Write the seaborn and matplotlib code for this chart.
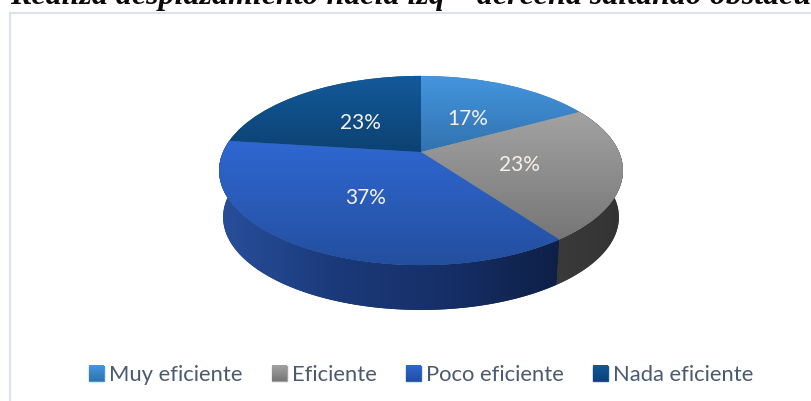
import numpy as np
import seaborn as sns
import matplotlib.pyplot as plt
from matplotlib.patches import Patch, PathPatch
from matplotlib.path import Path
from matplotlib.transforms import Transform

categories = ["Muy eficiente", "Eficiente", "Poco eficiente", "Nada eficiente"]
values = [17, 23, 37, 23]
title = "Realiza desplazamiento hacia izq – derecha saltando obstáculos"

# gradient ends, top to bottom of each slice
top_colors = [("#4596e0", "#3172ae"), ("#a3a3a3", "#767676"),
              ("#2f67d2", "#234f9e"), ("#135a9a", "#0c4273")]
side_colors = {1: ["#3a3a3a", "#333333"],
               2: ["#284f9c", "#1b3a7a", "#162f68", "#0e2046"]}

sns.set_theme(style="white")
plt.rcParams["font.family"] = ["Lato", "DejaVu Sans"]


class Tilted(Transform):
    """Unit pie circle to pixel coordinates, seen in perspective."""
    input_dims = 2
    output_dims = 2

    def __init__(self, scale=1.0, drop=0.0):
        super().__init__()
        self.scale = scale
        self.drop = drop

    def transform_non_affine(self, xy):
        xy = np.asarray(xy, dtype=float)
        den = 1 + 0.196 * xy[:, 1]
        px = 421 + self.scale * 198 * xy[:, 0] / den
        py = 152 - self.scale * 91 * xy[:, 1] / den + self.drop
        return np.column_stack([px, py])


fig = plt.figure(figsize=(8.11, 4.01), dpi=100)
ax = fig.add_axes([0, 0, 1, 1])

top = Tilted()
bottom = Tilted(scale=0.98, drop=47)

wedges, _, pcts = ax.pie(values, startangle=90, counterclock=False, radius=1,
                         autopct="%.0f%%", pctdistance=0.5,
                         textprops=dict(color="#f6f1ea", fontsize=15))
ax.set_aspect("auto")
ax.set_xlim(0, 811)
ax.set_ylim(401, 0)
ax.set_axis_off()

ramp = np.linspace(0, 1, 256)

# side wall first, the top of the pie covers whatever is behind it
for i, wedge in enumerate(wedges):
    if i not in side_colors:
        wedge.set_zorder(3)
        continue
    angles = np.radians(np.linspace(wedge.theta1, wedge.theta2, 200))
    ring = np.column_stack([np.cos(angles), np.sin(angles)])
    outline = np.vstack([top.transform(ring), bottom.transform(ring)[::-1]])
    wall = PathPatch(Path(outline, closed=False), transform=ax.transData,
                     facecolor=side_colors[i][-1], edgecolor="none", zorder=1)
    ax.add_patch(wall)
    # only the visible front part sets the horizontal gradient
    front = outline[outline[:, 1] > 175]
    cmap = sns.blend_palette(side_colors[i], 128, as_cmap=True)
    img = ax.imshow(ramp[None, :], cmap=cmap, aspect="auto", zorder=1.5,
                    extent=(front[:, 0].min(), front[:, 0].max(),
                            outline[:, 1].max(), outline[:, 1].min()))
    img.set_clip_path(wall)

for wedge, colors in zip(wedges, top_colors):
    wedge.set_transform(top + ax.transData)
    wedge.set_facecolor(colors[1])
    wedge.set_edgecolor("none")
    wedge.set_clip_on(False)
    wedge.set_zorder(3)
    box = top.transform_path(wedge.get_path()).get_extents()
    cmap = sns.blend_palette(colors, 128, as_cmap=True)
    img = ax.imshow(ramp[:, None], cmap=cmap, aspect="auto", zorder=3.5,
                    extent=(box.x0, box.x1, box.y1, box.y0))
    img.set_clip_path(wedge)

label_pos = Tilted(drop=3)
for pct in pcts:
    pct.set_transform(label_pos + ax.transData)
    pct.set_zorder(4)

handles = [Patch(color=c[0], label=name) for c, name in zip(top_colors, categories)]
leg = ax.legend(handles=handles, ncol=4, frameon=False, fontsize=15.8,
                labelcolor="#4a5a70", handlelength=0.68, handleheight=0.68,
                handletextpad=0.23, columnspacing=1.33, borderpad=0,
                borderaxespad=0, loc="center", bbox_to_anchor=(421 / 811, 1 - 375 / 401))

fig.canvas.draw()
for handle, colors in zip(leg.legend_handles, top_colors):
    box = handle.get_window_extent().transformed(ax.transData.inverted())
    cmap = sns.blend_palette(colors, 64, as_cmap=True)
    ax.imshow(ramp[:, None], cmap=cmap, aspect="auto", zorder=6,
              extent=(box.x0, box.x1, max(box.y0, box.y1), min(box.y0, box.y1)))

# frame of the embedded chart, only left and top show
ax.plot([10, 10, 811], [401, 12.5, 12.5], color="#dde3ee", lw=1.5, zorder=0)
ax.text(10, 4, title, family="Liberation Serif", style="italic", weight="bold",
        fontsize=23, color="#0a0a0a", va="baseline", ha="left")

ax.set_xlim(0, 811)
ax.set_ylim(401, 0)
fig.savefig("out.png", dpi=100)
